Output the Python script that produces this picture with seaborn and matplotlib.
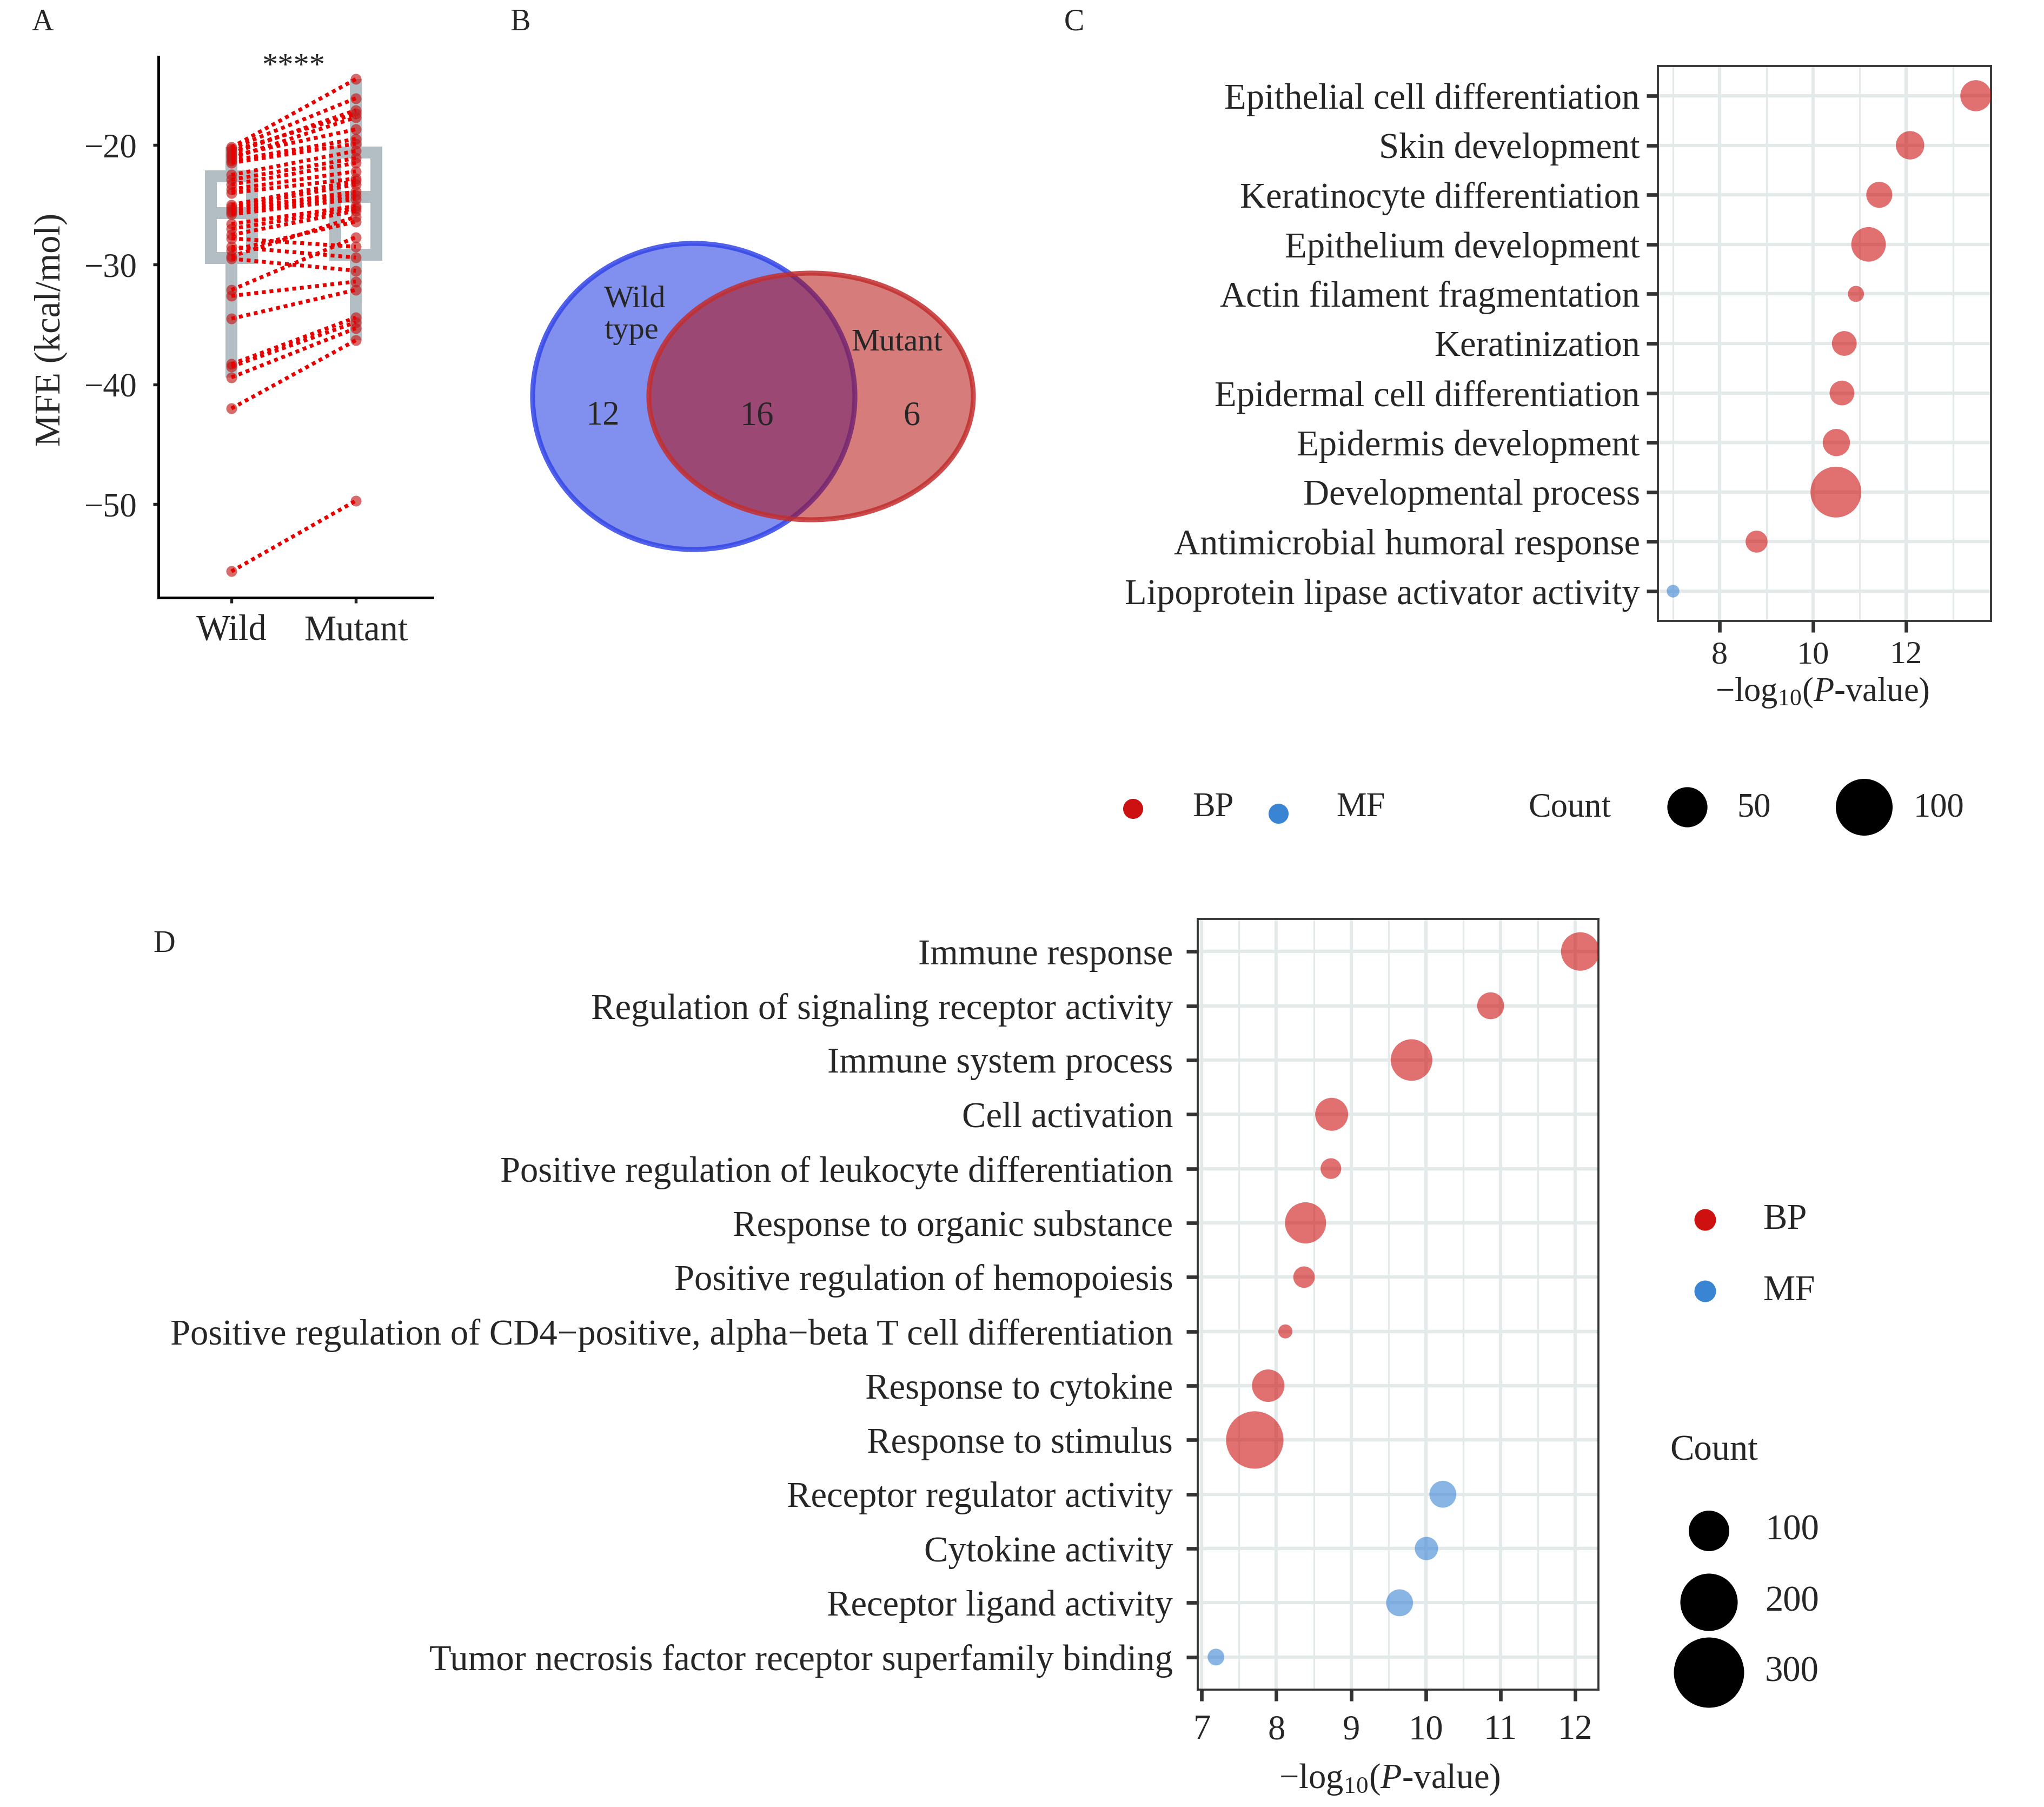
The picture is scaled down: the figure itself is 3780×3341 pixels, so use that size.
import numpy as np
import pandas as pd
import matplotlib
matplotlib.use('Agg')
import matplotlib.pyplot as plt
import seaborn as sns
from matplotlib.patches import Ellipse
from matplotlib.ticker import MultipleLocator

sns.set_theme(style='white')
plt.rcParams['font.family'] = ['Liberation Serif', 'DejaVu Serif']
plt.rcParams['mathtext.fontset'] = 'custom'
plt.rcParams['mathtext.rm'] = 'Liberation Serif'
plt.rcParams['mathtext.it'] = 'Liberation Serif:italic'
plt.rcParams['axes.unicode_minus'] = True

W, H, DPI = 3780, 3341, 300

# ---- A: paired MFE values (kcal/mol) ----
groups_a = ['Wild', 'Mutant']
wild_mfe = [-20.2, -20.3, -20.5, -20.7, -20.9, -21.1, -21.3, -21.5, -22.5, -22.9,
            -23.3, -23.7, -24.0, -25.0, -25.2, -25.4, -25.6, -25.8, -26.6, -27.0,
            -27.5, -28.8, -29.3, -27.8, -28.5, -29.5, -32.1, -32.6, -34.5, -38.3,
            -38.5, -39.4, -42.0, -55.6]
mutant_mfe = [-14.5, -16.1, -17.4, -17.1, -18.7, -17.7, -19.5, -19.9, -20.5, -21.1,
              -21.5, -22.2, -22.8, -23.0, -23.3, -23.9, -24.2, -24.5, -25.1, -25.3,
              -25.5, -26.4, -26.0, -28.5, -29.4, -30.5, -27.7, -31.4, -32.1, -34.4,
              -34.8, -35.3, -36.3, -49.7]
signif_a = '****'

# ---- B: Venn counts ----
venn_names = ['Wild\ntype', 'Mutant']
venn_counts = [12, 16, 6]   # wild only, shared, mutant only

# ---- C: GO enrichment ----
terms_c = ['Epithelial cell differentiation', 'Skin development',
           'Keratinocyte differentiation', 'Epithelium development',
           'Actin filament fragmentation', 'Keratinization',
           'Epidermal cell differentiation', 'Epidermis development',
           'Developmental process', 'Antimicrobial humoral response',
           'Lipoprotein lipase activator activity']
logp_c = [13.49, 12.08, 11.42, 11.19, 10.92, 10.67, 10.62, 10.50, 10.49, 8.79, 7.00]
count_c = [30, 25, 21, 37, 8, 19, 19, 23, 80, 15, 5]
cat_c = ['BP'] * 10 + ['MF']

# ---- D: GO enrichment ----
terms_d = ['Immune response', 'Regulation of signaling receptor activity',
           'Immune system process', 'Cell activation',
           'Positive regulation of leukocyte differentiation',
           'Response to organic substance', 'Positive regulation of hemopoiesis',
           'Positive regulation of CD4\u2212positive, alpha\u2212beta T cell differentiation',
           'Response to cytokine', 'Response to stimulus',
           'Receptor regulator activity', 'Cytokine activity',
           'Receptor ligand activity',
           'Tumor necrosis factor receptor superfamily binding']
logp_d = [12.07, 10.87, 9.81, 8.74, 8.73, 8.39, 8.37, 8.12, 7.89, 7.71,
          10.23, 10.01, 9.65, 7.19]
count_d = [90, 44, 105, 66, 26, 103, 28, 12, 64, 200, 44, 33, 44, 17]
cat_d = ['BP'] * 10 + ['MF'] * 4

cats = ['BP', 'MF']
cat_colors = {'BP': '#CD1111', 'MF': '#3A84D4'}
grid_col = '#E4E9E9'
frame_col = '#333333'
xlab = '\u2212log$_{10}$($P$-value)'


def px_axes(fig, l, t, r, b):
    return fig.add_axes([l / W, 1 - b / H, (r - l) / W, (b - t) / H])


fig = plt.figure(figsize=(W / DPI, H / DPI), dpi=DPI)

# ================= A =================
axa = px_axes(fig, 293, 105, 800, 1105)
dfa = pd.DataFrame({
    'pair': list(range(len(wild_mfe))) * 2,
    'group': ['Wild'] * len(wild_mfe) + ['Mutant'] * len(mutant_mfe),
    'mfe': wild_mfe + mutant_mfe,
})
dfa['pos'] = dfa['group'].map({g: i for i, g in enumerate(groups_a)})

sns.boxplot(data=dfa, x='group', y='mfe', order=groups_a, ax=axa, color='white',
            linecolor='#B2BEC3', linewidth=5.3, width=0.33, showfliers=False,
            showcaps=False)
sns.stripplot(data=dfa, x='group', y='mfe', order=groups_a, ax=axa, jitter=False,
              color='#C41A1A', alpha=0.65, size=4.8, linewidth=0, zorder=3)
for pid, sub in dfa.groupby('pair'):
    sub = sub.sort_values('pos')
    axa.plot(sub['pos'], sub['mfe'], color='#E60000', lw=1.7, ls=(0, (1, 1)),
             dash_capstyle='butt', zorder=4)

axa.set_xlim(-0.587, 1.617)
axa.set_ylim(-57.79, -12.64)
axa.set_yticks([-20, -30, -40, -50])
axa.set_xlabel('')
axa.set_ylabel('')
for s in ['top', 'right']:
    axa.spines[s].set_visible(False)
for s in ['left', 'bottom']:
    axa.spines[s].set_color('black')
    axa.spines[s].set_linewidth(1.2)
axa.tick_params(axis='both', bottom=True, left=True, length=2.5, width=1.3,
                color='#222222')
axa.tick_params(axis='y', labelsize=15, pad=7)
axa.tick_params(axis='x', labelsize=16, pad=5)
axa.text(0.5, -13.5, signif_a, ha='center', va='center', fontsize=14)

# ================= B =================
axb = px_axes(fig, 900, 350, 1850, 1050)
axb.set_xlim(900, 1850)
axb.set_ylim(1050, 350)
axb.axis('off')
axb.add_patch(Ellipse((1283, 733), 596, 566, facecolor=(0.07, 0.18, 0.88, 0.53),
                      edgecolor=(0.20, 0.27, 0.90, 0.85), lw=2.2))
axb.add_patch(Ellipse((1500, 733), 600, 456, facecolor=(0.70, 0.04, 0.03, 0.53),
                      edgecolor=(0.76, 0.18, 0.18, 0.85), lw=2.2))
axb.text(1117, 583, venn_names[0], ha='left', va='center', fontsize=14,
         linespacing=1.15)
axb.text(1659, 634, venn_names[1], ha='center', va='center', fontsize=14)
for xv, n in zip([1115, 1400, 1686], venn_counts):
    axb.text(xv, 770, str(n), ha='center', va='center', fontsize=15)


# ================= C & D helpers =================
def go_panel(ax, terms, logp, count, cat, k, xticks, minor):
    df = pd.DataFrame({'term': terms, 'logp': logp, 'count': count, 'cat': cat})
    sns.scatterplot(data=df, x='logp', y='term', hue='cat', hue_order=cats,
                    palette=cat_colors, size='count',
                    sizes=(k * min(count), k * max(count)),
                    size_norm=(min(count), max(count)), alpha=0.6,
                    edgecolor='none', linewidth=0, legend=False, ax=ax, zorder=3)
    lo, hi = min(logp), max(logp)
    pad = (hi - lo) * 0.05
    ax.set_xlim(lo - pad, hi + pad)
    ax.set_ylim(len(terms) - 0.4, -0.6)
    ax.set_xticks(xticks)
    ax.xaxis.set_minor_locator(MultipleLocator(minor))
    ax.set_axisbelow(True)
    ax.grid(True, which='major', color=grid_col, lw=1.5)
    ax.grid(True, which='minor', axis='x', color=grid_col, lw=0.8)
    ax.tick_params(which='minor', length=0)
    ax.tick_params(which='major', bottom=True, left=True, length=5, width=1.6,
                   color=frame_col)
    for s in ax.spines.values():
        s.set_color(frame_col)
        s.set_linewidth(0.9)
    ax.set_xlabel('')
    ax.set_ylabel('')


k_c = 6.35
axc = px_axes(fig, 3066, 122, 3682, 1148)
go_panel(axc, terms_c, logp_c, count_c, cat_c, k_c, [8, 10, 12], 1)
axc.tick_params(axis='y', labelsize=16, pad=3)
axc.tick_params(axis='x', labelsize=14.5, pad=4)

k_d = 3.24
axd = px_axes(fig, 2215, 1699, 2956, 3124)
go_panel(axd, terms_d, logp_d, count_d, cat_d, k_d, [7, 8, 9, 10, 11, 12], 0.5)
axd.tick_params(axis='y', labelsize=16, pad=6)
axd.tick_params(axis='x', labelsize=15.5, pad=6)

# ================= overlay: labels & legends =================
ov = fig.add_axes([0, 0, 1, 1])
ov.set_xlim(0, W)
ov.set_ylim(H, 0)
ov.axis('off')

for lab, (x, y) in zip('ABCD', [(79, 42), (962, 42), (1986, 42), (304, 1746)]):
    ov.text(x, y, lab, ha='center', va='center', fontsize=13.5)

ov.text(94, 609, 'MFE (kcal/mol)', rotation=90, ha='center', va='center', fontsize=16)
ov.text(3370, 1280, xlab, ha='center', va='center', fontsize=15)
ov.text(2570, 3290, xlab, ha='center', va='center', fontsize=15.5)

# legend C (horizontal)
for c, (x, y), tx in zip(cats, [(2095, 1495), (2364, 1504)], [2205, 2471]):
    ov.scatter([x], [y], s=79, color=cat_colors[c], linewidths=0)
    ov.text(tx, 1494, c, ha='left', va='center', fontsize=15)
ov.text(2826, 1494, 'Count', ha='left', va='center', fontsize=15)
for v, x, tx in zip([50, 100], [3120, 3447], [3212, 3539]):
    ov.scatter([x], [1492], s=k_c * v, color='black', linewidths=0)
    ov.text(tx, 1494, str(v), ha='left', va='center', fontsize=15)

# legend D (vertical)
for c, y in zip(cats, [2255, 2387]):
    ov.scatter([3153], [y], s=92, color=cat_colors[c], linewidths=0)
    ov.text(3260, y, c, ha='left', va='center', fontsize=16)
ov.text(3088, 2683, 'Count', ha='left', va='center', fontsize=16)
for v, y in zip([100, 200, 300], [2830, 2962, 3092]):
    ov.scatter([3160], [y], s=k_d * v, color='black', linewidths=0)
    ov.text(3264, y, str(v), ha='left', va='center', fontsize=16)

fig.savefig('out.png', dpi=DPI)
